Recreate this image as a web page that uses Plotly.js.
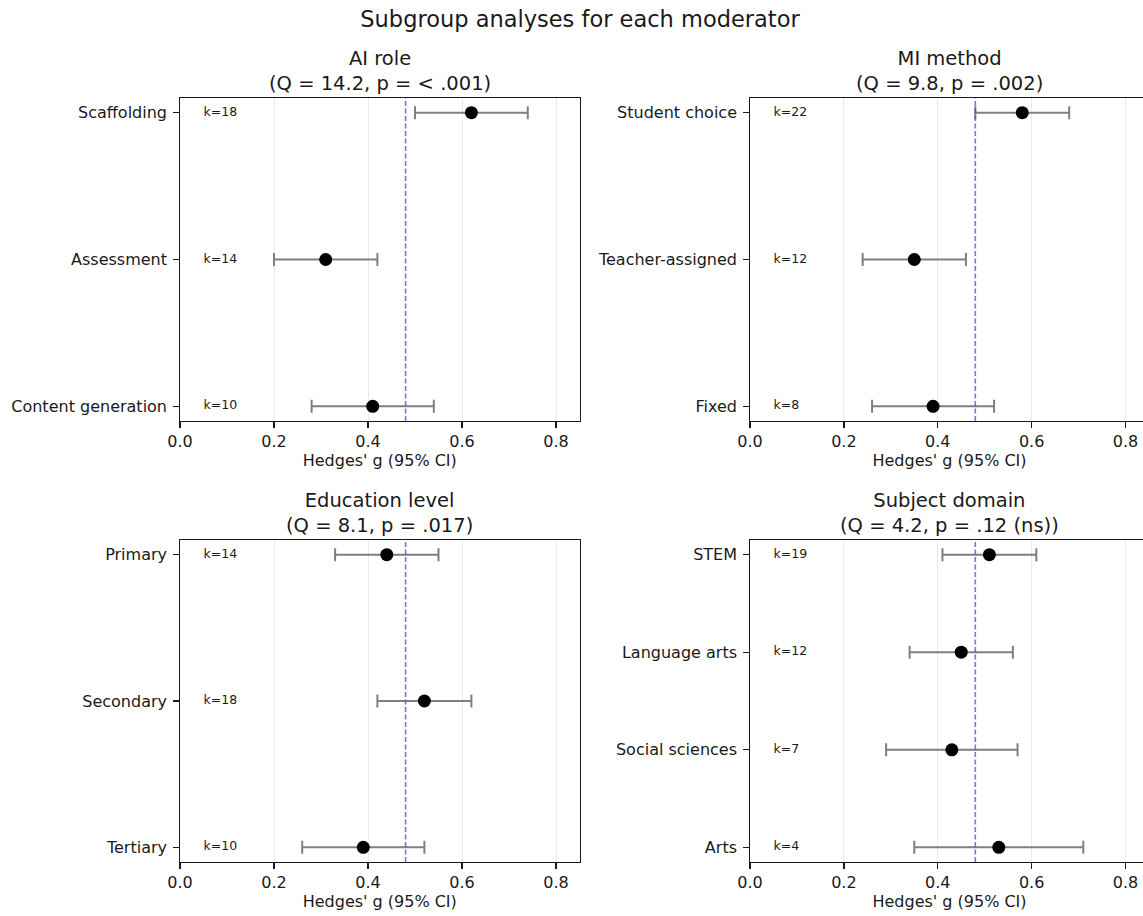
<!DOCTYPE html>
<html><head><meta charset="utf-8">
<script src="https://cdn.plot.ly/plotly-3.0.1.min.js"></script>
<style>html,body{margin:0;padding:0;overflow:hidden;background:#fff}</style>
</head><body><div id="chart" style="width:1160px;height:916px"></div>
<script>
// ---- data ----
const aiRoleCats = ["Scaffolding", "Assessment", "Content generation"];
const aiRoleG = [0.62, 0.31, 0.41];
const aiRoleLo = [0.50, 0.20, 0.28];
const aiRoleHi = [0.74, 0.42, 0.54];
const aiRoleK = [18, 14, 10];
const aiRoleTitle = "AI role";
const aiRoleStat = "(Q = 14.2, p = &lt; .001)";

const miCats = ["Student choice", "Teacher-assigned", "Fixed"];
const miG = [0.58, 0.35, 0.39];
const miLo = [0.48, 0.24, 0.26];
const miHi = [0.68, 0.46, 0.52];
const miK = [22, 12, 8];
const miTitle = "MI method";
const miStat = "(Q = 9.8, p = .002)";

const eduCats = ["Primary", "Secondary", "Tertiary"];
const eduG = [0.44, 0.52, 0.39];
const eduLo = [0.33, 0.42, 0.26];
const eduHi = [0.55, 0.62, 0.52];
const eduK = [14, 18, 10];
const eduTitle = "Education level";
const eduStat = "(Q = 8.1, p = .017)";

const subjCats = ["STEM", "Language arts", "Social sciences", "Arts"];
const subjG = [0.51, 0.45, 0.43, 0.53];
const subjLo = [0.41, 0.34, 0.29, 0.35];
const subjHi = [0.61, 0.56, 0.57, 0.71];
const subjK = [19, 12, 7, 4];
const subjTitle = "Subject domain";
const subjStat = "(Q = 4.2, p = .12 (ns))";

const pooledG = 0.48;
const kLabelX = 0.05;
const xTickVals = [0, 0.2, 0.4, 0.6, 0.8];
const xTickText = ["0.0", "0.2", "0.4", "0.6", "0.8"];
const xAxisTitle = "Hedges' g (95% CI)";
const mainTitle = "Subgroup analyses for each moderator";

// ---- layout geometry ----
const W = 1160, H = 916;
const FONT = "DejaVu Sans, Verdana, sans-serif";
const TXT = "#1a1a1a";
const panels = [
  {cats: aiRoleCats, g: aiRoleG, lo: aiRoleLo, hi: aiRoleHi, k: aiRoleK, title: aiRoleTitle, stat: aiRoleStat,
   xd: [180 / W, 579.5 / W], yd: [1 - 421 / H, 1 - 98 / H]},
  {cats: miCats, g: miG, lo: miLo, hi: miHi, k: miK, title: miTitle, stat: miStat,
   xd: [750 / W, 1149 / W], yd: [1 - 421 / H, 1 - 98 / H]},
  {cats: eduCats, g: eduG, lo: eduLo, hi: eduHi, k: eduK, title: eduTitle, stat: eduStat,
   xd: [180 / W, 579.5 / W], yd: [1 - 862 / H, 1 - 540 / H]},
  {cats: subjCats, g: subjG, lo: subjLo, hi: subjHi, k: subjK, title: subjTitle, stat: subjStat,
   xd: [750 / W, 1149 / W], yd: [1 - 862 / H, 1 - 540 / H]}
];

const traces = [];
const layout = {
  width: W, height: H,
  margin: {l: 0, r: 0, t: 0, b: 0},
  paper_bgcolor: "#fff", plot_bgcolor: "#fff",
  showlegend: false,
  font: {family: FONT, color: TXT, size: 16},
  title: {text: mainTitle, x: 0.5, xref: "paper", xanchor: "center",
          y: 1 - 19 / H, yref: "paper", yanchor: "middle",
          font: {family: FONT, size: 22.5, color: TXT}},
  annotations: [], shapes: []
};

panels.forEach((p, i) => {
  const n = i + 1;
  const xa = "x" + (n === 1 ? "" : n), ya = "y" + (n === 1 ? "" : n);
  const xk = "xaxis" + (n === 1 ? "" : n), yk = "yaxis" + (n === 1 ? "" : n);
  const m = p.cats.length - 1;
  traces.push({
    type: "scatter", mode: "markers", x: p.g, y: p.cats, xaxis: xa, yaxis: ya,
    marker: {color: "#000", size: 13},
    error_x: {type: "data", symmetric: false,
              array: p.hi.map((h, j) => h - p.g[j]),
              arrayminus: p.lo.map((l, j) => p.g[j] - l),
              color: "#7f7f7f", thickness: 2, width: 6.5},
    hoverinfo: "x+y"
  });
  traces.push({
    type: "scatter", mode: "text", x: p.cats.map(() => kLabelX), y: p.cats, xaxis: xa, yaxis: ya,
    text: p.k.map(v => "k=" + v), textposition: "middle right",
    textfont: {family: FONT, size: 12.5, color: TXT}, hoverinfo: "skip"
  });
  layout[xk] = {
    domain: p.xd, anchor: ya, range: [0, 0.85], type: "linear",
    tickvals: xTickVals, ticktext: xTickText,
    showgrid: true, gridcolor: "#ebebeb", gridwidth: 1,
    zeroline: false, showline: true, linecolor: "#1a1a1a", linewidth: 1.3, mirror: true,
    ticks: "outside", ticklen: 5.5, tickwidth: 1.3, tickcolor: "#1a1a1a",
    tickfont: {family: FONT, size: 16, color: TXT},
    title: {text: xAxisTitle, font: {family: FONT, size: 16, color: TXT}, standoff: 4},
    fixedrange: true
  };
  layout[yk] = {
    domain: p.yd, anchor: xa, type: "category", categoryorder: "array", categoryarray: p.cats,
    range: [m + 0.05 * m, -0.05 * m],
    showgrid: false, zeroline: false, showline: true, linecolor: "#1a1a1a", linewidth: 1.3, mirror: true,
    ticks: "outside", ticklen: 5.5, tickwidth: 1.3, tickcolor: "#1a1a1a", ticklabelstandoff: 3,
    tickfont: {family: FONT, size: 16, color: TXT},
    fixedrange: true
  };
  layout.shapes.push({
    type: "line", xref: xa, yref: ya + " domain", x0: pooledG, x1: pooledG, y0: 0, y1: 1,
    line: {color: "rgba(70,70,240,0.75)", width: 1.6, dash: "5px,2.5px"}, layer: "above"
  });
  layout.annotations.push({
    xref: xa + " domain", yref: ya + " domain", x: 0.5, y: 1, xanchor: "center", yanchor: "bottom",
    yshift: 1, showarrow: false, align: "center",
    text: p.title + "<br>" + p.stat, font: {family: FONT, size: 19.5, color: TXT}
  });
});

Plotly.newPlot("chart", traces, layout, {displayModeBar: false, staticPlot: true});
</script>
</body></html>
